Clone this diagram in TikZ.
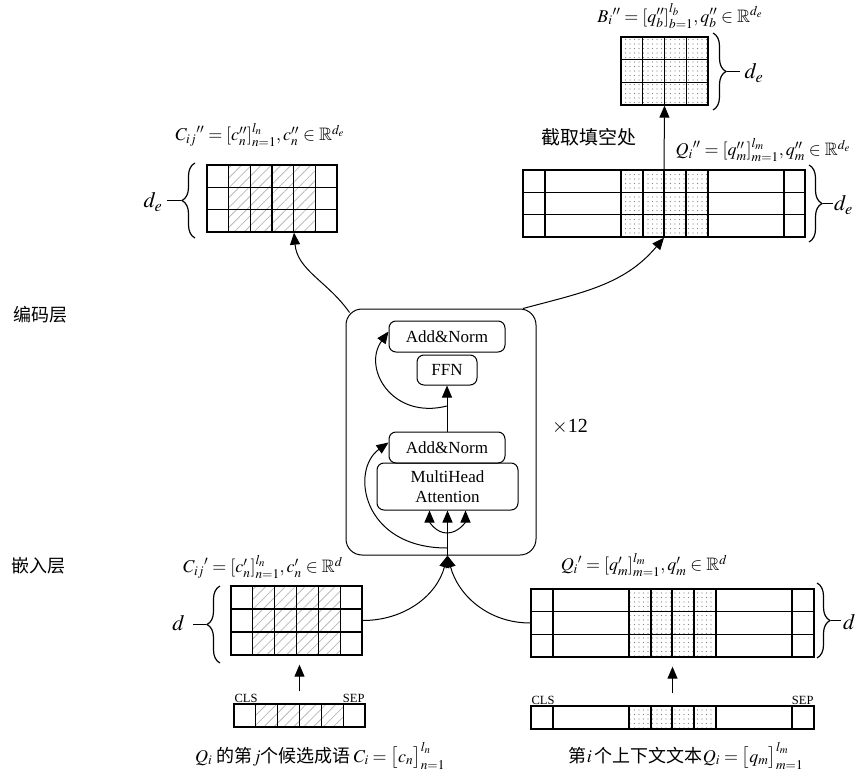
\documentclass[tikz,border=0pt]{standalone}
\usepackage{mathptmx}
\usepackage{amssymb}
\usepackage[no-math]{fontspec}
\setmainfont{Liberation Serif}
\newfontfamily\cjk{Noto Sans CJK SC}
\usetikzlibrary{arrows.meta,patterns.meta,decorations.pathreplacing}
\newcommand\setfs[1]{\fontsize{#1}{#1}\selectfont}

\begin{document}
\begin{tikzpicture}[
    x=1pt, y=-1pt,
    grid/.style={draw, line width=1.3pt, inner sep=0pt},
    gline/.style={line width=1.3pt},
    hatch/.style={pattern={Lines[angle=45,distance=7pt,line width=.8pt]}, pattern color=gray!55},
    dotfill/.style={pattern={Dots[radius=.65pt,distance=4.5pt]}, pattern color=gray},
    block/.style={draw, rounded corners=7pt, line width=1pt, inner sep=0pt, font=\setfs{17}},
    arr/.style={-{Triangle[length=12pt,width=10pt]}, line width=1pt},
    dimbrace/.style={decorate, decoration={brace, amplitude=13pt}, line width=1.2pt},
    lbl/.style={font=\setfs{18}},
  ]
    \useasboundingbox (0,0) rectangle (862,773);
    % layer names
    \node[font=\setfs{18}\cjk] (enclayer) at (40,315) {编码层};
    \node[font=\setfs{18}\cjk] (emblayer) at (38,566) {嵌入层};

    % blank part B'' (top right)
    \fill[dotfill] (621,37) rectangle (708,105);
    \node[grid, minimum width=87pt, minimum height=68pt] (bbox) at (664.5,71) {};
    \foreach \x in {642.75,664.5,686.25} \draw[gline] (\x,37) -- (\x,105);
    \foreach \y in {59.7,82.3} \draw[gline] (621,\y) -- (708,\y);
    \node[lbl] (blbl) at (680,16) {${B_i}''=[q_b'']_{b=1}^{l_b},q_b''\in\mathbb{R}^{d_e}$};
    \draw[dimbrace] (713,33) -- (713,110);
    \draw[line width=1.2pt] (727,71.5) -- (740,71.5);
    \node[font=\setfs{22}, anchor=west] (bde) at (741,73) {$d_e$};

    % context output Q'' (top right)
    \fill[dotfill] (621,170) rectangle (708,237);
    \node[grid, minimum width=282pt, minimum height=67pt] (qout) at (664,203.5) {};
    \foreach \x in {545,621,643,664,686,708,784} \draw[gline] (\x,170) -- (\x,237);
    \foreach \y in {192.3,214.7} \draw[gline] (523,\y) -- (805,\y);
    \node[lbl] (qoutlbl) at (763,150) {${Q_i}''=[q_m'']_{m=1}^{l_m},q_m''\in\mathbb{R}^{d_e}$};
    \node[font=\setfs{19}\cjk] (cut) at (589,137) {截取填空处};
    \draw[dimbrace] (809,165) -- (809,242);
    \draw[line width=1.2pt] (823,203.5) -- (833,203.5);
    \node[font=\setfs{22}, anchor=west, inner sep=1pt] (qoutde) at (833,205) {$d_e$};

    % idiom output C'' (top left)
    \fill[hatch] (228.7,165) rectangle (315.3,232);
    \node[grid, minimum width=130pt, minimum height=67pt] (cout) at (272,198.5) {};
    \foreach \x in {228.7,250.3,272,293.7,315.3} \draw[gline] (\x,165) -- (\x,232);
    \foreach \y in {187.3,209.7} \draw[gline] (207,\y) -- (337,\y);
    \node[lbl] (coutlbl) at (260,135) {${C_{ij}}''=[c_n'']_{n=1}^{l_n},c_n''\in\mathbb{R}^{d_e}$};
    \draw[dimbrace] (195,238) -- (195,163);
    \draw[line width=1.2pt] (181,200.5) -- (167,200.5);
    \node[font=\setfs{22}, anchor=east] (coutde) at (166,202) {$d_e$};

    % encoder
    \node[draw, line width=1pt, rounded corners=16pt, minimum width=190pt, minimum height=246pt] (enc) at (441,432) {};
    \node[block, minimum width=116pt, minimum height=31pt] (an1) at (447,336.5) {Add\&Norm};
    \node[block, minimum width=60pt, minimum height=30pt] (ffn) at (447,370) {FFN};
    \node[block, minimum width=116pt, minimum height=31pt] (an2) at (447,447.5) {Add\&Norm};
    \node[block, minimum width=141pt, minimum height=47pt, align=center, font=\fontsize{17}{20}\selectfont] (mha) at (447.5,486.5) {MultiHead\\Attention};
    \node[font=\setfs{20}] (times) at (570,427) {$\times$12};
    \coordinate (encin) at (mha.south |- enc.south);
    \coordinate (split) at (447,533);
    \coordinate (res1) at (447,548);
    \coordinate (res2) at (447,406);
    \draw[arr] (encin) -- (mha.south);
    \draw[arr] (split) to[out=180,in=-90] ([xshift=-18pt]mha.south);
    \draw[arr] (split) to[out=0,in=-90] ([xshift=18pt]mha.south);
    \draw[arr] (res1) .. controls (362,548) and (350,470) .. ([yshift=5pt]an2.west);
    \draw[arr] (an2.north) -- (ffn.south);
    \draw[arr] (res2) .. controls (392,420) and (362,368) .. ([yshift=5pt]an1.west);
    \draw[arr] ([xshift=4pt,yshift=-4pt]enc.north west) to[out=125,in=-85] ([xshift=22pt]cout.south);
    \draw[arr] ([xshift=82pt]enc.north) to[out=15,in=-130] (qout.south);
    \draw[arr] (qout.north) -- (bbox.south);

    % idiom embedding C' (bottom left)
    \fill[hatch] (252.8,586) rectangle (340.2,655);
    \node[grid, minimum width=131pt, minimum height=69pt] (cin) at (296.5,620.5) {};
    \foreach \x in {252.8,274.7,296.5,318.3,340.2} \draw[gline] (\x,586) -- (\x,655);
    \foreach \y in {609,632} \draw[gline] (231,\y) -- (362,\y);
    \node[lbl] (cinlbl) at (263,567) {${C_{ij}}'=[c_n']_{n=1}^{l_n},c_n'\in\mathbb{R}^{d}$};
    \draw[dimbrace] (220,663) -- (220,586);
    \draw[line width=1.2pt] (206,624.5) -- (193,624.5);
    \node[font=\setfs{22}, anchor=east] (cind) at (188,623) {$d$};

    % idiom tokens
    \fill[hatch] (255.8,704) rectangle (343.2,727);
    \node[grid, minimum width=131pt, minimum height=23pt] (ctok) at (299.5,715.5) {};
    \foreach \x in {255.8,277.7,299.5,321.3,343.2} \draw[gline] (\x,704) -- (\x,727);
    \node[font=\setfs{12.5}, anchor=south west, inner sep=1pt] (ccls) at (ctok.north west) {CLS};
    \node[font=\setfs{12.5}, anchor=south east, inner sep=1pt] (csep) at (ctok.north east) {SEP};
    \draw[arr, shorten <=12pt, shorten >=9pt] (ctok.north) -- (ctok.north |- cin.south);
    \node[font=\setfs{18}] (ctext) at (320,756) {$Q_i$\ {\cjk 的第}$j${\cjk 个候选成语}\,$C_i=\bigl[c_n\bigr]_{n=1}^{l_n}$};

    % context embedding Q' (bottom right)
    \fill[dotfill] (629,589) rectangle (716,657);
    \node[grid, minimum width=283pt, minimum height=68pt] (qin) at (672.5,623) {};
    \foreach \x in {553,629,651,672,694,716,792} \draw[gline] (\x,589) -- (\x,657);
    \foreach \y in {611.7,634.3} \draw[gline] (531,\y) -- (814,\y);
    \node[lbl] (qinlbl) at (644,565) {${Q_i}'=[q_m']_{m=1}^{l_m},q_m'\in\mathbb{R}^{d}$};
    \draw[dimbrace] (817,583) -- (817,658);
    \draw[line width=1.2pt] (831,620.5) -- (841,620.5);
    \node[font=\setfs{22}, anchor=west, inner sep=1pt] (qind) at (842,622) {$d$};

    % context tokens
    \fill[dotfill] (629,706) rectangle (716,729);
    \node[grid, minimum width=283pt, minimum height=23pt] (qtok) at (672.5,717.5) {};
    \foreach \x in {553,629,651,672,694,716,792} \draw[gline] (\x,706) -- (\x,729);
    \node[font=\setfs{12.5}, anchor=south west, inner sep=1pt] (qcls) at (qtok.north west) {CLS};
    \node[font=\setfs{12.5}, anchor=south east, inner sep=1pt] (qsep) at (qtok.north east) {SEP};
    \draw[arr, shorten <=12pt, shorten >=9pt] (qtok.north) -- (qtok.north |- qin.south);
    \node[font=\setfs{18}] (qtext) at (686,756) {{\cjk 第}$i$\,{\cjk 个上下文文本}$Q_i=\bigl[q_m\bigr]_{m=1}^{l_m}$};

    % into the encoder
    \draw[arr] (cin.east) to[out=0,in=-105] (encin);
    \draw[arr] (qin.west) to[out=180,in=-75] (encin);
  \end{tikzpicture}
\end{document}
